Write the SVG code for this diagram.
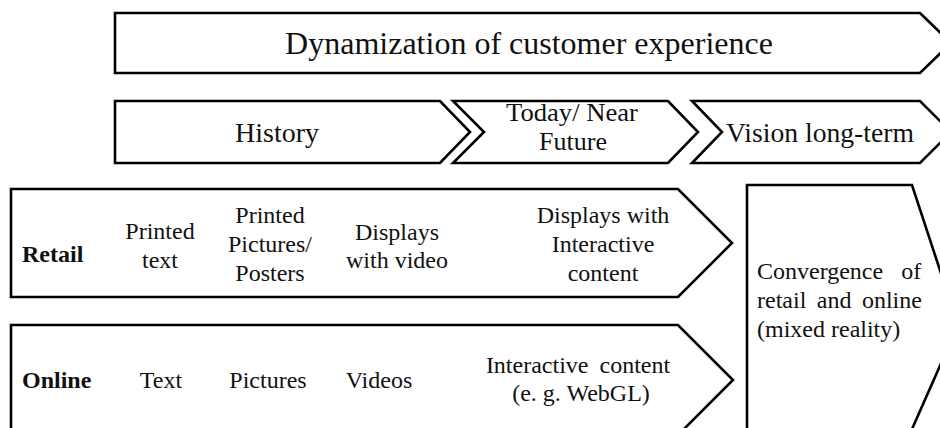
<svg xmlns="http://www.w3.org/2000/svg" width="940" height="428" viewBox="0 0 940 428">
<style>
.s{fill:#fff;stroke:#000;stroke-width:2.6;stroke-linejoin:miter}
text{font-family:"Liberation Serif","Times New Roman",serif;fill:#111;text-anchor:middle}
.t1{font-size:32px}
.t2{font-size:28px}
.t2b{font-size:26px}
.t3{font-size:24px}
.b{font-weight:bold;text-anchor:start}
.l{text-anchor:start}
</style>
<rect width="940" height="428" fill="#fff"/>
<g id="title">
<polygon class="s" points="115,13 920,13 951,43 920,73 115,73"/>
<text class="t1" x="529" y="54">Dynamization of customer experience</text>
</g>
<g id="history">
<polygon class="s" points="115,101 440,101 470,132 440,163 115,163"/>
<text class="t2" x="277" y="142">History</text>
</g>
<g id="today">
<polygon class="s" points="453,101 668,101 698,132 668,163 453,163 484,132"/>
<text class="t2b" x="572" y="121" textLength="132" lengthAdjust="spacingAndGlyphs">Today/ Near</text>
<text class="t2b" x="573" y="150">Future</text>
</g>
<g id="vision">
<polygon class="s" points="692,101 920,101 951,132 920,163 692,163 722,132"/>
<text class="t2" x="820" y="142" textLength="188" lengthAdjust="spacingAndGlyphs">Vision  long-term</text>
</g>
<g id="retail">
<polygon class="s" points="11,189 678,189 732,243 678,297 11,297"/>
<text class="t3 b" x="22" y="262">Retail</text>
<text class="t3" x="160" y="239">Printed</text>
<text class="t3" x="160" y="268">text</text>
<text class="t3" x="270" y="223">Printed</text>
<text class="t3" x="270" y="252">Pictures/</text>
<text class="t3" x="270" y="281">Posters</text>
<text class="t3" x="397" y="240">Displays</text>
<text class="t3" x="397" y="268">with video</text>
<text class="t3" x="603" y="223">Displays with</text>
<text class="t3" x="603" y="252">Interactive</text>
<text class="t3" x="603" y="281">content</text>
</g>
<g id="online">
<polygon class="s" points="11,325 678,325 733,380 678,435 11,435"/>
<text class="t3 b" x="22" y="388">Online</text>
<text class="t3" x="161" y="388">Text</text>
<text class="t3" x="268" y="388">Pictures</text>
<text class="t3" x="379" y="388">Videos</text>
<text class="t3" x="578" y="373" word-spacing="5">Interactive content</text>
<text class="t3" x="581" y="401">(e. g. WebGL)</text>
</g>
<g id="convergence">
<polygon class="s" points="747,185 912,185 958,325 905,445 747,445"/>
<text class="t3 l" x="757" y="279" word-spacing="12">Convergence of</text>
<text class="t3 l" x="757" y="308" word-spacing="4.5">retail and online</text>
<text class="t3 l" x="757" y="337">(mixed reality)</text>
</g>
<g id="connectors"/>
</svg>
